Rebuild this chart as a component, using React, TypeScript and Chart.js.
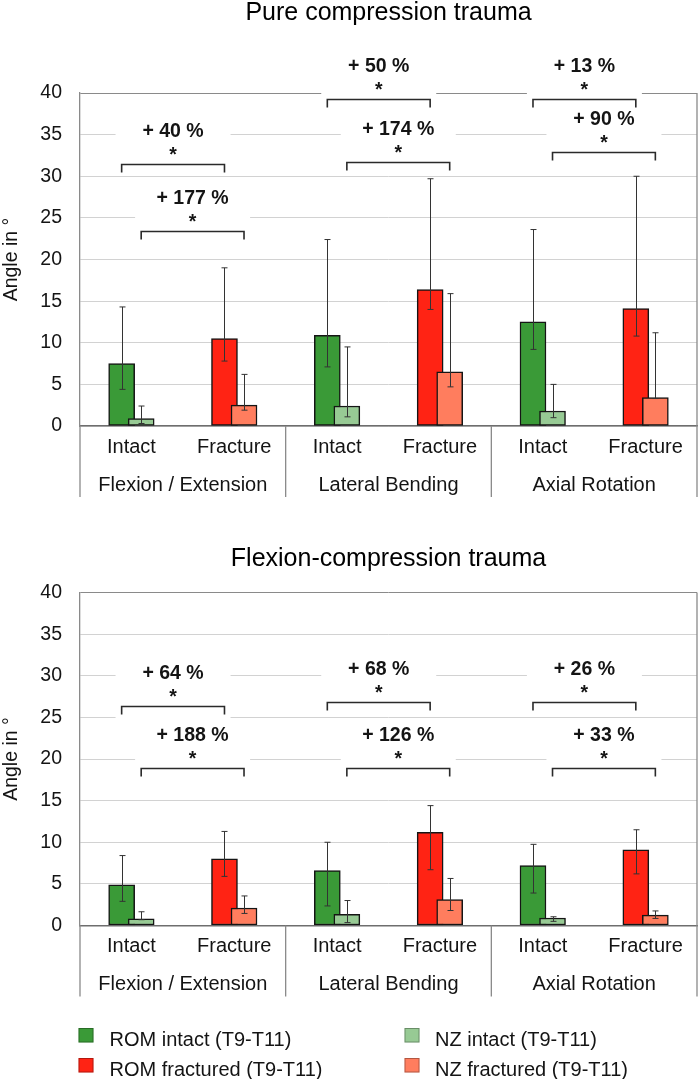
import React, { useEffect, useRef } from 'react';
import { Chart, registerables } from 'chart.js';

Chart.register(...registerables);

// ---------- data ----------
const stateLabels = ['Intact', 'Fracture', 'Intact', 'Fracture', 'Intact', 'Fracture'];
const groupLabels = ['Flexion / Extension', 'Lateral Bending', 'Axial Rotation'];
const yTickValues = [0, 5, 10, 15, 20, 25, 30, 35, 40];
const legendLabels = ['ROM intact (T9-T11)', 'ROM fractured (T9-T11)', 'NZ intact (T9-T11)', 'NZ fractured (T9-T11)'];
const yTitle = 'Angle in °';

// Pure compression trauma
const pureTitle = 'Pure compression trauma';
const pureRom = [7.5, 10.5, 10.9, 16.4, 12.5, 14.1];
const pureRomHi = [14.3, 19.0, 22.4, 29.7, 23.6, 30.0];
const pureRomLo = [4.4, 7.8, 7.1, 14.0, 9.2, 10.8];
const pureNz = [0.9, 2.5, 2.4, 6.5, 1.8, 3.4];
const pureNzHi = [2.4, 6.2, 9.5, 15.9, 5.0, 11.2];
const pureNzLo = [0.3, 1.9, 1.1, 4.7, 1.0, 3.3];
const pureRomBracket = [31.5, 39.3, 39.3];
const pureNzBracket = [23.4, 31.7, 32.9];
const pureRomChange = ['+ 40 %', '+ 50 %', '+ 13 %'];
const pureNzChange = ['+ 177 %', '+ 174 %', '+ 90 %'];

// Flexion-compression trauma
const flexTitle = 'Flexion-compression trauma';
const flexRom = [4.9, 8.0, 6.6, 11.2, 7.2, 9.1];
const flexRomHi = [8.4, 11.3, 10.0, 14.4, 9.75, 11.5];
const flexRomLo = [2.9, 5.9, 2.35, 6.7, 3.9, 6.2];
const flexNz = [0.8, 2.1, 1.35, 3.1, 0.9, 1.25];
const flexNzHi = [1.65, 3.55, 3.0, 5.65, 1.05, 1.75];
const flexNzLo = [0.7, 1.45, 0.35, 1.8, 0.5, 0.85];
const flexRomBracket = [26.35, 26.85, 26.85];
const flexNzBracket = [18.9, 18.9, 18.9];
const flexRomChange = ['+ 64 %', '+ 68 %', '+ 26 %'];
const flexNzChange = ['+ 188 %', '+ 126 %', '+ 33 %'];

// ---------- style ----------
const FONT = '"Liberation Sans", Arial, Helvetica, sans-serif';
const C_ROM_INTACT = '#3a9a37';
const C_ROM_FRAC = '#ff2314';
const C_NZ_INTACT = '#97ca94';
const C_NZ_FRAC = '#ff7d5e';
const GRID = '#d2d2d2';
const AXIS = '#8a8a8a';
const TEXT = '#141414';
const BAR_SHIFT = 0.095; // half distance between ROM and NZ bar centres, in category units
const XAXIS_H = 71;

type PanelData = {
  title: string;
  rom: number[]; romHi: number[]; romLo: number[];
  nz: number[]; nzHi: number[]; nzLo: number[];
  romBracket: number[]; nzBracket: number[];
  romChange: string[]; nzChange: string[];
};

const pureData: PanelData = {
  title: pureTitle,
  rom: pureRom, romHi: pureRomHi, romLo: pureRomLo,
  nz: pureNz, nzHi: pureNzHi, nzLo: pureNzLo,
  romBracket: pureRomBracket, nzBracket: pureNzBracket,
  romChange: pureRomChange, nzChange: pureNzChange,
};
const flexData: PanelData = {
  title: flexTitle,
  rom: flexRom, romHi: flexRomHi, romLo: flexRomLo,
  nz: flexNz, nzHi: flexNzHi, nzLo: flexNzLo,
  romBracket: flexRomBracket, nzBracket: flexNzBracket,
  romChange: flexRomChange, nzChange: flexNzChange,
};

function makePlugin(d: PanelData, titleY: number, legend: boolean) {
  return {
    id: 'annot',
    beforeDatasetsDraw(chart: any) {
      const ctx = chart.ctx;
      const y = chart.scales.y;
      const rom = chart.getDatasetMeta(0).data;
      const nz = chart.getDatasetMeta(1).data;
      ctx.save();
      ctx.fillStyle = '#ffffff';
      for (let g = 0; g < 3; g++) {
        const sets: [any[], number[]][] = [[rom, d.romBracket], [nz, d.nzBracket]];
        for (const [bars, vals] of sets) {
          const xc = (bars[2 * g].x + bars[2 * g + 1].x) / 2;
          const B = y.getPixelForValue(vals[g]);
          ctx.fillRect(xc - 57.5, B - 48, 115, 60);
        }
      }
      ctx.restore();
    },
    afterDatasetsDraw(chart: any) {
      const ctx = chart.ctx;
      const y = chart.scales.y;
      const rom = chart.getDatasetMeta(0).data;
      const nz = chart.getDatasetMeta(1).data;
      ctx.save();
      // error bars
      ctx.strokeStyle = '#333333';
      ctx.lineWidth = 1;
      const errs: [any[], number[], number[]][] = [[rom, d.romHi, d.romLo], [nz, d.nzHi, d.nzLo]];
      for (const [bars, hi, lo] of errs) {
        bars.forEach((b: any, i: number) => {
          const x = Math.round(b.x) + 0.5;
          const yh = y.getPixelForValue(hi[i]);
          const yl = y.getPixelForValue(lo[i]);
          ctx.beginPath();
          ctx.moveTo(x, yh); ctx.lineTo(x, yl);
          ctx.moveTo(x - 3, yh); ctx.lineTo(x + 3, yh);
          ctx.moveTo(x - 3, yl); ctx.lineTo(x + 3, yl);
          ctx.stroke();
        });
      }
      // brackets and labels
      for (let g = 0; g < 3; g++) {
        const sets: [any[], number[], string[]][] = [[rom, d.romBracket, d.romChange], [nz, d.nzBracket, d.nzChange]];
        for (const [bars, vals, labels] of sets) {
          const x1 = bars[2 * g].x;
          const x2 = bars[2 * g + 1].x;
          const B = Math.round(y.getPixelForValue(vals[g])) + 0.5;
          ctx.strokeStyle = '#2a2a2a';
          ctx.lineWidth = 1.6;
          ctx.beginPath();
          ctx.moveTo(x1, B + 8); ctx.lineTo(x1, B); ctx.lineTo(x2, B); ctx.lineTo(x2, B + 8);
          ctx.stroke();
          const xc = (x1 + x2) / 2;
          ctx.fillStyle = TEXT;
          ctx.textAlign = 'center';
          ctx.textBaseline = 'middle';
          ctx.font = `bold 19.5px ${FONT}`;
          ctx.fillText(labels[g], xc, B - 33);
          ctx.fillText('*', xc, B - 8.5);
        }
      }
      ctx.restore();
    },
    afterDraw(chart: any) {
      const ctx = chart.ctx;
      const a = chart.chartArea;
      const xb = chart.scales.xb;
      ctx.save();
      ctx.strokeStyle = AXIS;
      ctx.lineWidth = 1.3;
      ctx.beginPath();
      // left axis extension
      ctx.moveTo(a.left, a.bottom); ctx.lineTo(a.left, a.bottom + XAXIS_H);
      // right border
      ctx.moveTo(a.right, a.top); ctx.lineTo(a.right, a.bottom + XAXIS_H);
      // group separators
      for (const v of [1.5, 3.5]) {
        const x = xb.getPixelForValue(v);
        ctx.moveTo(x, a.bottom); ctx.lineTo(x, a.bottom + XAXIS_H);
      }
      ctx.stroke();
      // group labels
      ctx.fillStyle = TEXT;
      ctx.textAlign = 'center';
      ctx.textBaseline = 'middle';
      ctx.font = `20px ${FONT}`;
      groupLabels.forEach((lab, g) => {
        const x = xb.getPixelForValue(2 * g + 0.5);
        ctx.fillText(lab, x, a.bottom + 59);
      });
      // title
      ctx.fillStyle = '#000';
      ctx.font = `25px ${FONT}`;
      ctx.fillText(d.title, (a.left + a.right) / 2, titleY);
      // legend
      if (legend) {
        const colors = [C_ROM_INTACT, C_ROM_FRAC, C_NZ_INTACT, C_NZ_FRAC];
        const colX = [78.5, 404.5];
        const textX = [109.5, 435];
        const rowY = [528, 558];
        ctx.font = `20px ${FONT}`;
        ctx.textAlign = 'left';
        legendLabels.forEach((lab, i) => {
          const col = Math.floor(i / 2);
          const row = i % 2;
          ctx.fillStyle = colors[i];
          ctx.fillRect(colX[col], rowY[row], 15, 14.5);
          ctx.strokeStyle = 'rgba(0,0,0,0.3)';
          ctx.lineWidth = 1;
          ctx.strokeRect(colX[col] + 0.5, rowY[row] + 0.5, 14, 13.5);
          ctx.fillStyle = TEXT;
          ctx.fillText(lab, textX[col], rowY[row] + 12.5);
        });
      }
      ctx.restore();
    },
  };
}

function Panel({ d, height, padTop, padBottom, titleY, legend }: { d: PanelData; height: number; padTop: number; padBottom: number; titleY: number; legend: boolean }) {
  const ref = useRef<HTMLCanvasElement>(null);
  useEffect(() => {
    const romColors = stateLabels.map((_, i) => (i % 2 === 0 ? C_ROM_INTACT : C_ROM_FRAC));
    const nzColors = stateLabels.map((_, i) => (i % 2 === 0 ? C_NZ_INTACT : C_NZ_FRAC));
    const chart = new Chart(ref.current as HTMLCanvasElement, {
      type: 'bar',
      data: {
        labels: stateLabels,
        datasets: [
          {
            label: 'ROM',
            data: d.rom.map((v, i) => ({ x: i - BAR_SHIFT, y: v })),
            backgroundColor: romColors,
            borderColor: '#151515',
            borderWidth: 1.5,
            borderSkipped: false,
            barThickness: 26,
            grouped: false,
            xAxisID: 'xb',
            yAxisID: 'y',
            order: 1,
          } as any,
          {
            label: 'NZ',
            data: d.nz.map((v, i) => ({ x: i + BAR_SHIFT, y: v })),
            backgroundColor: nzColors,
            borderColor: '#151515',
            borderWidth: 1.5,
            borderSkipped: false,
            barThickness: 26,
            grouped: false,
            xAxisID: 'xb',
            yAxisID: 'y',
            order: 0,
          } as any,
        ],
      },
      options: {
        responsive: false,
        animation: false,
        events: [],
        layout: { padding: { top: padTop, left: 0, right: 2, bottom: padBottom } },
        plugins: { legend: { display: false }, tooltip: { enabled: false }, title: { display: false } },
        scales: {
          x: {
            type: 'category',
            offset: true,
            grid: { display: false, drawTicks: false },
            border: { display: true, color: '#6e6e6e', width: 1.4 },
            ticks: { font: { family: FONT, size: 20 }, color: TEXT, padding: 9, autoSkip: false, maxRotation: 0 },
            afterFit: (s: any) => { s.height = XAXIS_H; },
          },
          xb: {
            type: 'linear',
            display: false,
            offset: false,
            min: -0.5,
            max: 5.5,
          },
          y: {
            type: 'linear',
            min: 0,
            max: 40,
            afterBuildTicks: (s: any) => { s.ticks = yTickValues.map((v) => ({ value: v })); },
            ticks: { font: { family: FONT, size: 19.5 }, color: TEXT, padding: 18 },
            grid: {
              drawTicks: false,
              lineWidth: 1,
              color: (c: any) => (c.tick && c.tick.value === 40 ? AXIS : GRID),
            },
            border: { display: true, color: AXIS, width: 1.3 },
            title: { display: true, text: yTitle, font: { family: FONT, size: 19.5 }, color: TEXT, padding: 0 },
            afterFit: (s: any) => { s.width = 80; },
          },
        } as any,
      },
      plugins: [makePlugin(d, titleY, legend)],
    });
    return () => chart.destroy();
  }, []);
  return <canvas ref={ref} width={699} height={height} style={{ display: 'block' }} />;
}

export default function App() {
  return (
    <div style={{ position: 'absolute', left: 0, top: 0, width: 699, height: 1079, background: '#fff' }}>
      <Panel d={pureData} height={500} padTop={93} padBottom={3} titleY={13} legend={false} />
      <Panel d={flexData} height={579} padTop={92.5} padBottom={82.5} titleY={59} legend={true} />
    </div>
  );
}
